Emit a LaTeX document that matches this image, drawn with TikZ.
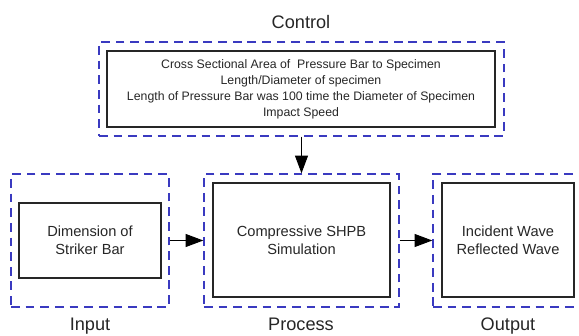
\documentclass[tikz,border=0pt]{standalone}
\usepackage{fontspec}
\setmainfont{Liberation Sans}
\usepackage{tikz}
\usetikzlibrary{arrows.meta, positioning}
\definecolor{dashblue}{RGB}{58,58,192}
\tikzset{block/.style={draw=black!85, line width=0.9pt, align=center, inner sep=0pt, text=black!85},
    group/.style={draw=dashblue, line width=1.2pt, dash pattern=on 7.5pt off 5pt, inner sep=0pt},
    caption/.style={font=\fontsize{15.5}{18}\selectfont, anchor=base, inner sep=0pt, text=black!85}
}

\begin{document}
\begin{tikzpicture}[x=0.03cm, y=-0.03cm, >={Triangle[length=15pt,width=11pt]}]
        \clip (0,0) rectangle (579,336);
        % control parameters at the top
        \node[group, minimum width=12.15cm, minimum height=2.82cm] (ctrlgrp) at (301.5,89) {};
        \node[block, minimum width=11.64cm, minimum height=2.28cm, font=\fontsize{10.5}{13.6}\selectfont] (ctrl) at (301,89)
            {Cross Sectional Area of \ Pressure Bar to Specimen\\ Length/Diameter of specimen\\ Length of Pressure Bar was 100 time the Diameter of Specimen\\ Impact Speed};
        \node[caption] (ctrllbl) at (301,28.5) {Control};

        % input -> process -> output
        \node[group, minimum width=4.74cm, minimum height=3.99cm] (ingrp) at (90,240.5) {};
        \node[block, minimum width=4.26cm, minimum height=2.25cm, font=\fontsize{12.5}{15.5}\selectfont] (in) at (90,240.5)
            {Dimension of\\ Striker Bar};
        \node[caption] (inlbl) at (90,330) {Input};

        \node[group, minimum width=5.85cm, minimum height=3.99cm] (procgrp) at (301.5,240.5) {};
        \node[block, minimum width=5.31cm, minimum height=3.42cm, font=\fontsize{12.5}{15.5}\selectfont] (proc) at (301.5,240)
            {Compressive SHPB\\ Simulation};
        \node[caption] (proclbl) at (301,330) {Process};

        \node[group, minimum width=4.5cm, minimum height=3.99cm] (outgrp) at (508,240.5) {};
        \node[block, minimum width=3.96cm, minimum height=3.42cm, font=\fontsize{12.5}{15.5}\selectfont] (out) at (508,240)
            {Incident Wave\\ Reflected Wave};
        \node[caption] (outlbl) at (508,330) {Output};

        \draw[->, line width=0.9pt] (ctrlgrp.south) -- (procgrp.north);
        \draw[->, line width=0.9pt] (ingrp.east) -- (procgrp.west);
        \draw[->, line width=0.9pt] (procgrp.east) -- (outgrp.west);
\end{tikzpicture}
\end{document}
